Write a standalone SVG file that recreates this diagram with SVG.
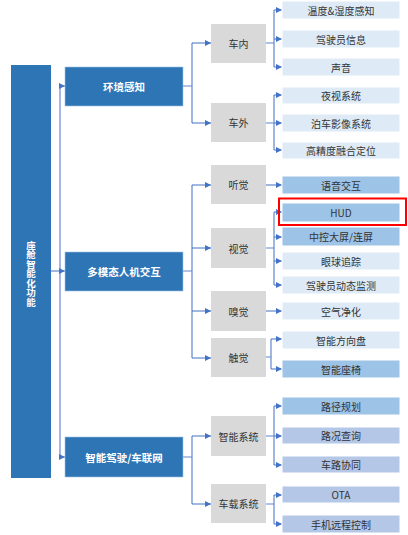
<svg xmlns="http://www.w3.org/2000/svg" width="408" height="535" viewBox="0 0 408 535">
<defs>
<marker id="ar" viewBox="0 0 6 6" refX="6" refY="3" markerWidth="6" markerHeight="6" markerUnits="userSpaceOnUse" orient="auto">
<path d="M0,0 L6,3 L0,6 z" fill="#4472C4"/>
</marker>
<style>
text{font-family:"Noto Sans CJK SC","Noto Sans",sans-serif;text-anchor:middle;dominant-baseline:central}
.l0{fill:#2E75B6}
.l1{fill:#2E75B6;stroke:#9DC3E6;stroke-width:0.6}
.l1t{fill:#fff;font-size:10.5px;font-weight:bold}
.l2{fill:#D9D9D9}
.l2t{fill:#333;font-size:10px}
.pa{fill:#DEEBF7;stroke:#fff;stroke-width:1}
.md{fill:#9DC3E6;stroke:#fff;stroke-width:1}
.lv{fill:#B4C7E7;stroke:#fff;stroke-width:1}
.l3t{fill:#333;font-size:10px}
.vt{fill:#fff;font-size:9.5px;font-weight:bold;writing-mode:vertical-rl;text-orientation:upright}
.c{fill:none;stroke:#4472C4;stroke-width:1.2;stroke-opacity:0.85}
.a{marker-end:url(#ar)}
</style>
</defs>
<rect width="408" height="535" fill="#fff"/>

<g id="connectors">
<path class="c" d="M60,86 V457"/>
<path class="c a" d="M60,86 H65"/>
<path class="c a" d="M51,271 H65"/>
<path class="c a" d="M60,457 H65"/>
<path class="c" d="M183,86 H192 M192,43 V123"/>
<path class="c a" d="M192,43 H211"/>
<path class="c a" d="M192,123 H211"/>
<path class="c" d="M183,271 H192 M192,185 V358"/>
<path class="c a" d="M192,185 H211"/>
<path class="c a" d="M192,248 H211"/>
<path class="c a" d="M192,311 H211"/>
<path class="c a" d="M192,358 H211"/>
<path class="c" d="M183,457 H192 M192,436 V504"/>
<path class="c a" d="M192,436 H211"/>
<path class="c a" d="M192,504 H211"/>
<path class="c" d="M266,43 H274 M274,10 V67"/>
<path class="c a" d="M274,10 H282"/>
<path class="c a" d="M274,39 H282"/>
<path class="c a" d="M274,67 H282"/>
<path class="c" d="M266,123 H274 M274,95 V150"/>
<path class="c a" d="M274,95 H282"/>
<path class="c a" d="M274,123 H282"/>
<path class="c a" d="M274,150 H282"/>
<path class="c a" d="M266,185 H282"/>
<path class="c" d="M266,248 H274 M274,212 V285"/>
<path class="c a" d="M274,212 H282"/>
<path class="c a" d="M274,237 H282"/>
<path class="c a" d="M274,261 H282"/>
<path class="c a" d="M274,285 H282"/>
<path class="c a" d="M266,311 H282"/>
<path class="c" d="M266,357 H271 M271,339 V369"/>
<path class="c a" d="M271,339 H282"/>
<path class="c a" d="M271,369 H282"/>
<path class="c" d="M266,436 H274 M274,406 V465"/>
<path class="c a" d="M274,406 H282"/>
<path class="c a" d="M274,436 H282"/>
<path class="c a" d="M274,465 H282"/>
<path class="c" d="M266,504 H274 M274,495 V524"/>
<path class="c a" d="M274,495 H282"/>
<path class="c a" d="M274,524 H282"/>
</g>

<g id="root">
<rect class="l0" x="11" y="65" width="40" height="413"/>
<text class="vt" x="31" y="273.5">座舱智能化功能</text>
</g>

<g id="n-env"><rect class="l1" x="65" y="67" width="118" height="39"/><text class="l1t" x="124" y="86.5">环境感知</text></g>
<g id="n-hmi"><rect class="l1" x="65" y="252" width="118" height="39"/><text class="l1t" x="124" y="271.5">多模态人机交互</text></g>
<g id="n-adas"><rect class="l1" x="65" y="437" width="118" height="40"/><text class="l1t" x="124" y="457">智能驾驶/车联网</text></g>

<g id="n-in"><rect class="l2" x="211" y="24" width="55" height="39"/><text class="l2t" x="238.5" y="43.5">车内</text></g>
<g id="n-out"><rect class="l2" x="211" y="103" width="55" height="39"/><text class="l2t" x="238.5" y="122.5">车外</text></g>
<g id="n-hear"><rect class="l2" x="211" y="165" width="55" height="39"/><text class="l2t" x="238.5" y="184.5">听觉</text></g>
<g id="n-see"><rect class="l2" x="211" y="228" width="55" height="40"/><text class="l2t" x="238.5" y="248">视觉</text></g>
<g id="n-smell"><rect class="l2" x="211" y="291" width="55" height="40"/><text class="l2t" x="238.5" y="311">嗅觉</text></g>
<g id="n-touch"><rect class="l2" x="211" y="338" width="55" height="39"/><text class="l2t" x="238.5" y="357.5">触觉</text></g>
<g id="n-smart"><rect class="l2" x="211" y="416" width="55" height="40"/><text class="l2t" x="238.5" y="436">智能系统</text></g>
<g id="n-car"><rect class="l2" x="211" y="484" width="55" height="39"/><text class="l2t" x="238.5" y="503.5">车载系统</text></g>

<g id="n-temp"><rect class="pa" x="282" y="1" width="118" height="18"/><text class="l3t" x="341" y="10">温度&amp;湿度感知</text></g>
<g id="n-driver"><rect class="pa" x="282" y="30" width="118" height="18"/><text class="l3t" x="341" y="39">驾驶员信息</text></g>
<g id="n-sound"><rect class="pa" x="282" y="58" width="118" height="18"/><text class="l3t" x="341" y="67">声音</text></g>
<g id="n-night"><rect class="pa" x="282" y="87" width="118" height="17"/><text class="l3t" x="341" y="95.5">夜视系统</text></g>
<g id="n-park"><rect class="pa" x="282" y="114" width="118" height="18"/><text class="l3t" x="341" y="123">泊车影像系统</text></g>
<g id="n-hd"><rect class="pa" x="282" y="142" width="118" height="17"/><text class="l3t" x="341" y="150.5">高精度融合定位</text></g>
<g id="n-voice"><rect class="md" x="282" y="176" width="118" height="18"/><text class="l3t" x="341" y="185">语音交互</text></g>
<g id="n-hud"><rect class="md" x="282" y="203" width="118" height="19"/><text class="l3t" x="341" y="212.5">HUD</text><rect x="279" y="198.5" width="127" height="26.5" fill="none" stroke="#FF0000" stroke-width="2"/></g>
<g id="n-screen"><rect class="md" x="282" y="227" width="118" height="19"/><text class="l3t" x="341" y="236.5">中控大屏/连屏</text></g>
<g id="n-eye"><rect class="pa" x="282" y="252" width="118" height="18"/><text class="l3t" x="341" y="261">眼球追踪</text></g>
<g id="n-dms"><rect class="pa" x="282" y="276" width="118" height="18"/><text class="l3t" x="341" y="285">驾驶员动态监测</text></g>
<g id="n-air"><rect class="pa" x="282" y="302" width="118" height="18"/><text class="l3t" x="341" y="311">空气净化</text></g>
<g id="n-wheel"><rect class="pa" x="282" y="331" width="118" height="18"/><text class="l3t" x="341" y="340">智能方向盘</text></g>
<g id="n-seat"><rect class="md" x="282" y="360" width="118" height="18"/><text class="l3t" x="341" y="369">智能座椅</text></g>
<g id="n-route"><rect class="md" x="282" y="397" width="118" height="18"/><text class="l3t" x="341" y="406">路径规划</text></g>
<g id="n-traffic"><rect class="lv" x="282" y="427" width="118" height="17"/><text class="l3t" x="341" y="435.5">路况查询</text></g>
<g id="n-v2x"><rect class="lv" x="282" y="456" width="118" height="17"/><text class="l3t" x="341" y="464.5">车路协同</text></g>
<g id="n-ota"><rect class="lv" x="282" y="486" width="118" height="17"/><text class="l3t" x="341" y="494.5">OTA</text></g>
<g id="n-remote"><rect class="lv" x="282" y="515" width="118" height="18"/><text class="l3t" x="341" y="524">手机远程控制</text></g>
</svg>
